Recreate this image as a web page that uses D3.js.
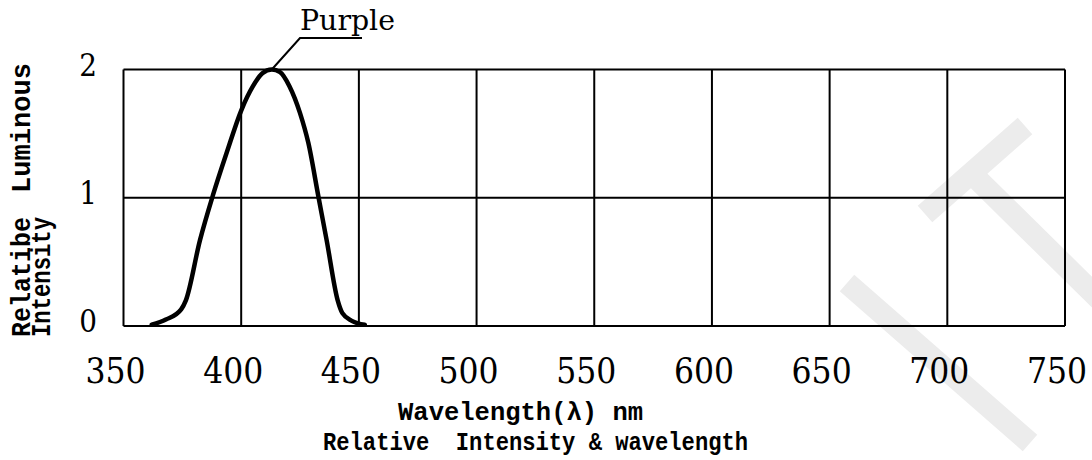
<!DOCTYPE html>
<html>
<head>
<meta charset="utf-8">
<script src="https://cdn.jsdelivr.net/npm/d3@7"></script>
<style>
  body { margin: 0; background: #fff; }
  svg { display: block; }
</style>
</head>
<body>
<div id="vis"></div>
<script>
// dimensions of the frame
const FRAME_WIDTH = 1092;
const FRAME_HEIGHT = 460;

// plot area inside the frame
const PLOT = {left: 123.5, right: 1065, top: 69.5, bottom: 326};

// data
const WAVELENGTH_TICKS = [350, 400, 450, 500, 550, 600, 650, 700, 750];
const INTENSITY_TICKS = [0, 1, 2];
const CURVE_NM = [362, 368, 374.5, 376.5, 382.5, 388, 394, 400, 405, 409, 413,
                  416.5, 420.5, 425, 428.5, 432.8, 436.3, 441, 443, 447, 452.5];
const CURVE_VAL = [0.01, 0.05, 0.13, 0.2, 0.67, 1.02, 1.36, 1.68, 1.87, 1.97, 2.0,
                   1.98, 1.87, 1.66, 1.43, 1.01, 0.67, 0.2, 0.1, 0.04, 0.01];
const SERIES_NAME = "Purple";
const PEAK_NM = 413;
const PEAK_VAL = 2;

const MONO = "'Liberation Mono', 'DejaVu Sans Mono', monospace";
const SERIF = "'DejaVu Serif Condensed', 'DejaVu Serif', serif";

const FRAME = d3.select("#vis")
                .append("svg")
                .attr("width", FRAME_WIDTH)
                .attr("height", FRAME_HEIGHT);

// scales
const X_SCALE = d3.scaleLinear()
                  .domain([350, 750])
                  .range([PLOT.left, PLOT.right]);

const Y_SCALE = d3.scaleLinear()
                  .domain([0, 2])
                  .range([PLOT.bottom, PLOT.top]);

// faint watermark behind everything
const WATERMARK = [
  [[847, 283], [1030, 443]],
  [[925, 214], [1025, 126]],
  [[968, 170], [1100, 300]]
];
FRAME.selectAll(".wm")
     .data(WATERMARK)
     .enter()
     .append("line")
       .attr("x1", (d) => d[0][0])
       .attr("y1", (d) => d[0][1])
       .attr("x2", (d) => d[1][0])
       .attr("y2", (d) => d[1][1])
       .attr("stroke", "#ececec")
       .attr("stroke-width", 22);

// vertical grid lines
FRAME.selectAll(".vgrid")
     .data(WAVELENGTH_TICKS)
     .enter()
     .append("line")
       .attr("x1", (d) => X_SCALE(d))
       .attr("x2", (d) => X_SCALE(d))
       .attr("y1", PLOT.top)
       .attr("y2", PLOT.bottom)
       .attr("stroke", "#000")
       .attr("stroke-width", 2);

// horizontal grid lines
FRAME.selectAll(".hgrid")
     .data(INTENSITY_TICKS)
     .enter()
     .append("line")
       .attr("x1", PLOT.left)
       .attr("x2", PLOT.right)
       .attr("y1", (d) => Y_SCALE(d))
       .attr("y2", (d) => Y_SCALE(d))
       .attr("stroke", "#000")
       .attr("stroke-width", 2);

// x tick labels
FRAME.selectAll(".xlab")
     .data(WAVELENGTH_TICKS)
     .enter()
     .append("text")
       .attr("x", (d) => X_SCALE(d) - 8)
       .attr("y", 383)
       .attr("text-anchor", "middle")
       .attr("font-family", SERIF)
       .attr("font-stretch", "condensed")
       .attr("font-size", 35)
       .text((d) => d);

// y tick labels
FRAME.selectAll(".ylab")
     .data(INTENSITY_TICKS)
     .enter()
     .append("text")
       .attr("x", 88)
       .attr("y", (d) => Y_SCALE(d) + 6)
       .attr("text-anchor", "middle")
       .attr("font-family", SERIF)
       .attr("font-stretch", "condensed")
       .attr("font-size", 31)
       .text((d) => d);

// the curve
const points = CURVE_NM.map((d, i) => [d, CURVE_VAL[i]]);
FRAME.append("path")
     .datum(points)
     .attr("fill", "none")
     .attr("stroke", "#000")
     .attr("stroke-width", 4.5)
     .attr("stroke-linejoin", "round")
     .attr("stroke-linecap", "round")
     .attr("d", d3.line()
                  .x((d) => X_SCALE(d[0]))
                  .y((d) => Y_SCALE(d[1]))
                  .curve(d3.curveMonotoneX));

// series label with leader line to the peak
FRAME.append("path")
     .attr("fill", "none")
     .attr("stroke", "#000")
     .attr("stroke-width", 2)
     .attr("d", "M362,38 L300,38 L" + X_SCALE(PEAK_NM) + "," + Y_SCALE(PEAK_VAL));

FRAME.append("text")
     .attr("x", 300)
     .attr("y", 30)
     .attr("font-family", "'DejaVu Serif', serif")
     .attr("font-size", 28)
     .attr("textLength", 95)
     .attr("lengthAdjust", "spacingAndGlyphs")
     .text(SERIES_NAME);

// y axis title, rotated
const Y_TITLES = [
  {text: "Luminous", x: 30, y: 193, len: 130},
  {text: "Relatibe", x: 30, y: 337, len: 120},
  {text: "Intensity", x: 50, y: 337, len: 120}
];
FRAME.selectAll(".ytitle")
     .data(Y_TITLES)
     .enter()
     .append("text")
       .attr("transform", (d) => "translate(" + d.x + "," + d.y + ") rotate(-90)")
       .attr("font-family", MONO)
       .attr("font-weight", "bold")
       .attr("font-size", 27)
       .attr("textLength", (d) => d.len)
       .attr("lengthAdjust", "spacingAndGlyphs")
       .text((d) => d.text);

// x axis titles
FRAME.append("text")
     .attr("x", 398)
     .attr("y", 420)
     .attr("font-family", MONO)
     .attr("font-weight", "bold")
     .attr("font-size", 26)
     .attr("textLength", 245)
     .attr("lengthAdjust", "spacingAndGlyphs")
     .text("Wavelength(λ) nm");

FRAME.append("text")
     .attr("x", 323)
     .attr("y", 450)
     .attr("font-family", MONO)
     .attr("font-weight", "bold")
     .attr("font-size", 26)
     .attr("textLength", 425)
     .attr("lengthAdjust", "spacingAndGlyphs")
     .style("white-space", "pre")
     .text("Relative  Intensity & wavelength");
</script>
</body>
</html>
